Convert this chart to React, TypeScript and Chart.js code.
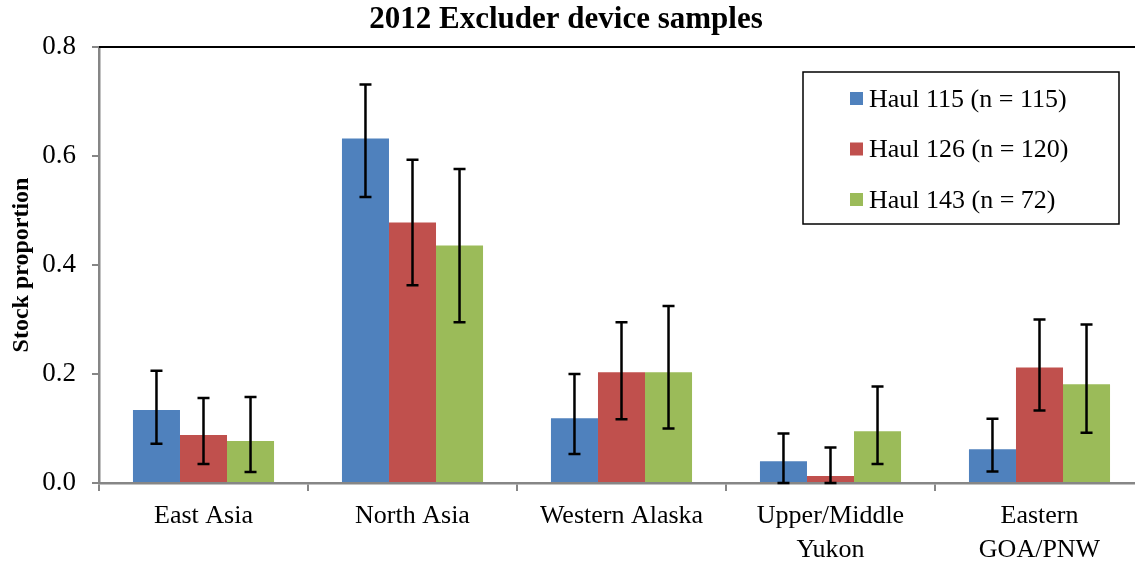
import React, { useEffect, useRef } from "react";
import { Chart, registerables } from "chart.js";

Chart.register(...registerables);

const chartTitle = "2012 Excluder device samples";
const yAxisTitle = "Stock proportion";
const categories: (string | string[])[] = [
  "East Asia",
  "North Asia",
  "Western Alaska",
  ["Upper/Middle", "Yukon"],
  ["Eastern", "GOA/PNW"],
];
const yTicks = [0, 0.2, 0.4, 0.6, 0.8];

const seriesLabels = ["Haul 115 (n = 115)", "Haul 126 (n = 120)", "Haul 143 (n = 72)"];
const seriesColors = ["#4F81BD", "#C0504D", "#9BBB59"];

const haul115 = [0.134, 0.632, 0.119, 0.040, 0.062];
const haul115Low = [0.072, 0.525, 0.053, 0.0, 0.021];
const haul115High = [0.206, 0.731, 0.200, 0.091, 0.118];

const haul126 = [0.088, 0.478, 0.203, 0.013, 0.212];
const haul126Low = [0.035, 0.363, 0.117, 0.0, 0.133];
const haul126High = [0.156, 0.593, 0.295, 0.065, 0.300];

const haul143 = [0.077, 0.436, 0.203, 0.095, 0.181];
const haul143Low = [0.020, 0.295, 0.100, 0.035, 0.092];
const haul143High = [0.158, 0.576, 0.325, 0.177, 0.291];

const seriesValues = [haul115, haul126, haul143];
const seriesLow = [haul115Low, haul126Low, haul143Low];
const seriesHigh = [haul115High, haul126High, haul143High];

const FONT = "'Liberation Serif', 'Times New Roman', serif";

const errorBarPlugin = {
  id: "errorBars",
  afterDatasetsDraw(chart: any) {
    const ctx = chart.ctx;
    const y = chart.scales.y;
    ctx.save();
    ctx.strokeStyle = "#000";
    ctx.lineWidth = 2.5;
    chart.data.datasets.forEach((ds: any, di: number) => {
      const meta = chart.getDatasetMeta(di);
      meta.data.forEach((bar: any, i: number) => {
        const lo = y.getPixelForValue(seriesLow[di][i]);
        const hi = y.getPixelForValue(seriesHigh[di][i]);
        const x = bar.x;
        const cap = 6;
        ctx.beginPath();
        ctx.moveTo(x, lo);
        ctx.lineTo(x, hi);
        ctx.moveTo(x - cap, hi);
        ctx.lineTo(x + cap, hi);
        ctx.moveTo(x - cap, lo);
        ctx.lineTo(x + cap, lo);
        ctx.stroke();
      });
    });
    ctx.restore();
  },
};

const decorPlugin = {
  id: "decor",
  afterDraw(chart: any) {
    const ctx = chart.ctx;
    const area = chart.chartArea;
    ctx.save();
    // top border line
    ctx.strokeStyle = "#000";
    ctx.lineWidth = 2;
    ctx.beginPath();
    ctx.moveTo(area.left, area.top);
    ctx.lineTo(area.right + 2, area.top);
    ctx.stroke();

    // title
    ctx.fillStyle = "#000";
    ctx.font = `bold 31px ${FONT}`;
    ctx.textAlign = "center";
    ctx.textBaseline = "alphabetic";
    ctx.fillText(chartTitle, 566, 28);

    // legend box
    const bx = 803;
    const by = 72;
    const bw = 316;
    const bh = 152;
    ctx.lineWidth = 1.5;
    ctx.strokeRect(bx, by, bw, bh);
    ctx.font = `26px ${FONT}`;
    ctx.textAlign = "left";
    ctx.textBaseline = "middle";
    chart.data.datasets.forEach((ds: any, i: number) => {
      const cy = 99 + i * 50.5;
      ctx.fillStyle = ds.backgroundColor;
      ctx.fillRect(850, cy - 7, 13, 13);
      ctx.fillStyle = "#000";
      ctx.fillText(ds.label, 869, cy + 1);
    });
    ctx.restore();
  },
};

export default function App() {
  const ref = useRef<HTMLCanvasElement | null>(null);

  useEffect(() => {
    if (!ref.current) return;
    const chart = new Chart(ref.current, {
      type: "bar",
      data: {
        labels: categories,
        datasets: seriesLabels.map((label, i) => ({
          label,
          data: seriesValues[i],
          backgroundColor: seriesColors[i],
          borderWidth: 0,
          categoryPercentage: 0.675,
          barPercentage: 1.0,
        })),
      },
      options: {
        responsive: false,
        animation: false,
        devicePixelRatio: 1,
        layout: { padding: { top: 47, right: 16, left: 0, bottom: 0 } },
        plugins: {
          legend: { display: false },
          title: { display: false },
          tooltip: { enabled: false },
        },
        scales: {
          x: {
            afterFit: (s: any) => {
              s.height = 79;
            },
            grid: {
              offset: true,
              drawOnChartArea: false,
              drawTicks: true,
              tickLength: 8,
              color: "#868686",
              lineWidth: 2,
            },
            border: { display: true, color: "#868686", width: 2.5 },
            ticks: {
              autoSkip: false,
              maxRotation: 0,
              color: "#000",
              padding: 9,
              font: { family: FONT, size: 26, lineHeight: 1.28 },
            },
          },
          y: {
            min: 0,
            max: 0.8,
            afterFit: (s: any) => {
              s.width = 99;
            },
            afterBuildTicks: (s: any) => {
              s.ticks = yTicks.map((v) => ({ value: v }));
            },
            grid: {
              drawOnChartArea: false,
              drawTicks: true,
              tickLength: 7,
              color: "#868686",
              lineWidth: 2,
            },
            border: { display: true, color: "#868686", width: 2.5 },
            ticks: {
              color: "#000",
              padding: 16,
              callback: (v: any) => Number(v).toFixed(1),
              font: { family: FONT, size: 27 },
            },
            title: {
              display: true,
              text: yAxisTitle,
              color: "#000",
              padding: { top: 7, bottom: 0 },
              font: { family: FONT, size: 24, weight: "bold" },
            },
          },
        },
      },
      plugins: [errorBarPlugin, decorPlugin],
    });
    return () => chart.destroy();
  }, []);

  return (
    <div
      style={{
        position: "absolute",
        left: 0,
        top: 0,
        width: 1135,
        height: 562,
        overflow: "hidden",
        background: "#fff",
      }}
    >
      <canvas ref={ref} width={1160} height={562} style={{ display: "block" }} />
    </div>
  );
}
